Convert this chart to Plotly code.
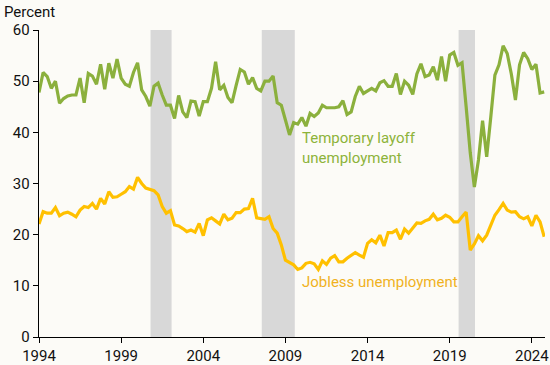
import plotly.graph_objects as go

# Quarterly observations, 1994 Q1 .. 2024 Q4
start_year = 1994
temporary_layoff = [
    47.8, 51.7, 50.9, 48.6, 50.0, 45.7, 46.6, 47.1, 47.3, 47.3,
    50.6, 45.8, 51.5, 51.0, 49.4, 53.3, 48.4, 53.5, 50.6, 54.3,
    50.6, 49.4, 49.0, 51.7, 53.6, 48.3, 47.0, 45.1, 49.0, 49.6,
    47.3, 45.3, 45.3, 42.7, 47.2, 44.0, 42.9, 46.1, 46.0, 43.2,
    46.0, 46.0, 48.6, 53.8, 48.3, 49.2, 46.8, 45.8, 49.2, 52.3,
    51.8, 49.4, 50.7, 48.6, 48.1, 50.0, 50.0, 51.0, 45.8, 45.3,
    42.4, 39.5, 41.9, 41.6, 42.9, 41.2, 43.7, 43.1, 43.8, 45.3,
    44.8, 44.8, 44.8, 45.0, 46.2, 43.5, 44.0, 47.0, 49.0, 47.6,
    48.1, 48.6, 48.1, 49.7, 50.1, 49.0, 49.0, 51.5, 47.4, 50.0,
    49.2, 47.4, 51.4, 53.4, 50.9, 51.2, 52.8, 50.2, 54.8, 50.0,
    55.1, 55.6, 53.1, 53.6, 45.0, 36.0, 29.3, 34.6, 42.3, 35.2,
    43.0, 51.2, 53.2, 56.9, 55.4, 51.4, 46.3, 53.2, 55.6, 54.4,
    52.3, 53.3, 47.7, 47.9,
]
jobless = [
    22.1, 24.5, 24.2, 24.2, 25.3, 23.7, 24.2, 24.4, 24.0, 23.5,
    24.8, 25.5, 25.3, 26.1, 25.0, 27.1, 26.0, 28.4, 27.3, 27.4,
    27.9, 28.4, 29.4, 28.9, 31.2, 30.0, 29.1, 28.9, 28.6, 27.8,
    25.5, 24.2, 24.7, 21.9, 21.7, 21.2, 20.6, 20.9, 20.5, 22.2,
    19.8, 22.9, 23.3, 22.7, 22.1, 24.0, 22.9, 23.2, 24.3, 24.3,
    25.0, 25.1, 27.1, 23.3, 23.2, 23.0, 23.5, 21.2, 20.3, 18.0,
    15.0, 14.5, 14.1, 13.2, 13.5, 14.4, 14.6, 14.3, 13.2, 14.9,
    14.2, 15.4, 15.9, 14.7, 14.7, 15.4, 16.0, 16.5, 16.0, 15.6,
    18.3, 19.0, 18.4, 19.9, 17.8, 20.4, 20.4, 20.9, 19.1, 21.1,
    20.3, 21.4, 22.3, 22.2, 22.7, 23.0, 24.0, 22.9, 23.2, 23.8,
    23.4, 22.5, 22.5, 23.5, 24.4, 17.0, 18.2, 19.8, 18.8, 19.9,
    21.7, 23.8, 24.9, 26.1, 24.8, 24.4, 24.5, 23.5, 23.1, 23.5,
    21.7, 23.8, 22.5, 19.6,
]
x_ticks = [1994, 1999, 2004, 2009, 2014, 2019, 2024]
y_ticks = [0, 10, 20, 30, 40, 50, 60]
# recession shading (decimal years as drawn on the chart)
recessions = [(2000.79, 2002.07), (2007.56, 2009.57), (2019.54, 2020.54)]

years = [start_year + i / 4 for i in range(len(jobless))]

GREEN = "#8bb03d"
YELLOW = "#ffc000"
BG = "#fcfbf7"
FONT = "Roboto"

fig = go.Figure()
for a, b in recessions:
    fig.add_shape(type="rect", xref="x", yref="paper", x0=a, x1=b, y0=0, y1=1,
                  fillcolor="#d8d8d8", line_width=0, layer="below")

fig.add_trace(go.Scatter(x=years, y=temporary_layoff, mode="lines",
                         line=dict(color=GREEN, width=3.2), hoverinfo="skip"))
fig.add_trace(go.Scatter(x=years, y=jobless, mode="lines",
                         line=dict(color=YELLOW, width=3.2), hoverinfo="skip"))

fig.add_annotation(x=2009.9, y=36.9, xref="x", yref="y", text="Temporary layoff<br>unemployment",
                   showarrow=False, xanchor="left", yanchor="middle", align="left",
                   font=dict(family=FONT, size=15, color="#8db33a"))
fig.add_annotation(x=2009.9, y=10.75, xref="x", yref="y", text="Jobless unemployment",
                   showarrow=False, xanchor="left", yanchor="middle", align="left",
                   font=dict(family=FONT, size=15, color="#f0b21e"))
fig.add_annotation(x=-0.073, y=1.0586, xref="paper", yref="paper", text="Percent",
                   showarrow=False, xanchor="left", yanchor="middle",
                   font=dict(family=FONT, size=15, color="#111"))

fig.update_layout(
    width=550, height=365,
    margin=dict(l=39, r=5, t=30, b=28, autoexpand=False),
    paper_bgcolor=BG, plot_bgcolor=BG,
    showlegend=False,
    font=dict(family=FONT, size=15, color="#111"),
    xaxis=dict(range=[1994, 2024.8], tickvals=x_ticks, ticktext=[str(v) for v in x_ticks],
               automargin=False,
               showgrid=False, zeroline=False, showline=True, linecolor="#000", linewidth=1.3,
               ticks="outside", ticklen=5, tickcolor="#000", tickfont=dict(size=15, color="#111")),
    yaxis=dict(range=[0, 60], tickvals=y_ticks, showgrid=False, zeroline=False,
               automargin=False,
               showline=True, linecolor="#000", linewidth=1.3,
               ticks="outside", ticklen=5, tickcolor="#000", tickfont=dict(size=15, color="#111")),
)

fig.write_html(
    "out.html",
    config={"displayModeBar": False, "staticPlot": True},
    post_script="document.body.style.margin='0';document.body.style.background='%s';" % BG,
)
